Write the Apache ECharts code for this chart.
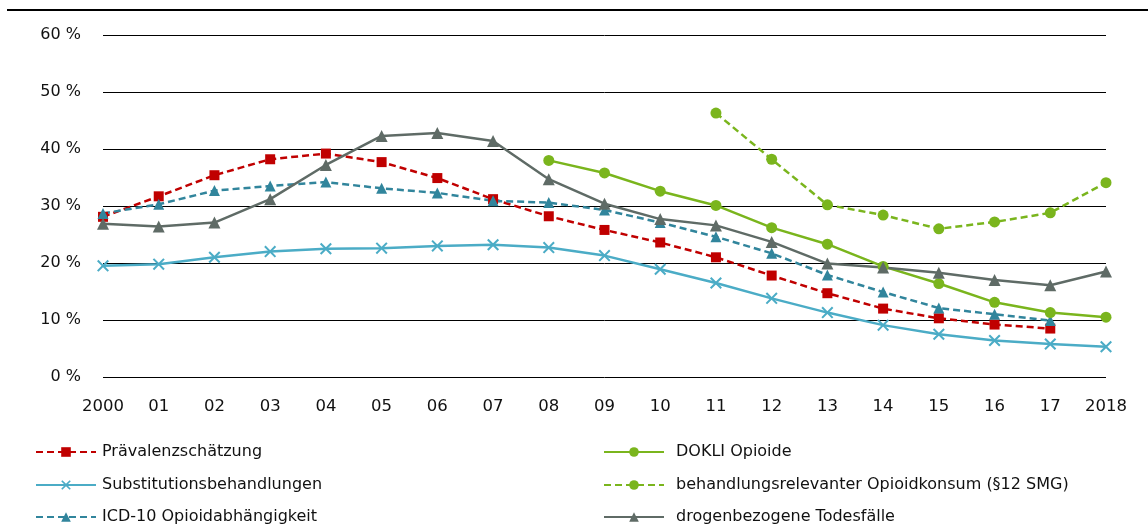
<!DOCTYPE html>
<html>
<head>
<meta charset="utf-8">
<script src="https://cdn.jsdelivr.net/npm/echarts@6/dist/echarts.min.js"></script>
<style>
  html, body { margin: 0; padding: 0; background: #fff; }
  #chart { width: 1148px; height: 526px; }
</style>
</head>
<body>
<div id="chart"></div>
<script>
// Years on the category axis
const years = ['2000', '01', '02', '03', '04', '05', '06', '07', '08', '09',
               '10', '11', '12', '13', '14', '15', '16', '17', '2018'];

// Series values in percent (null = no data for that year)
const praevalenz = [28.1, 31.7, 35.4, 38.2, 39.2, 37.7, 34.9, 31.2, 28.2, 25.8,
                    23.6, 21.0, 17.8, 14.7, 12.0, 10.3, 9.2, 8.5, null];
const substitution = [19.5, 19.8, 21.0, 22.0, 22.5, 22.6, 23.0, 23.2, 22.7, 21.3,
                      18.9, 16.5, 13.8, 11.3, 9.1, 7.5, 6.4, 5.8, 5.3];
const icd10 = [28.7, 30.3, 32.7, 33.5, 34.2, 33.1, 32.3, 30.9, 30.6, 29.3,
               27.1, 24.6, 21.7, 17.9, 14.9, 12.1, 11.0, 9.9, null];
const dokli = [null, null, null, null, null, null, null, null, 38.0, 35.8,
               32.6, 30.1, 26.2, 23.3, 19.4, 16.4, 13.1, 11.3, 10.5];
const smg = [null, null, null, null, null, null, null, null, null, null,
             null, 46.3, 38.2, 30.2, 28.4, 26.0, 27.2, 28.8, 34.1];
const todesfaelle = [26.9, 26.4, 27.1, 31.2, 37.2, 42.3, 42.8, 41.4, 34.7, 30.4,
                     27.7, 26.6, 23.7, 19.9, 19.2, 18.3, 17.0, 16.1, 18.5];

// Series names, in legend order (left column, then right column)
const names = ['Prävalenzschätzung', 'Substitutionsbehandlungen', 'ICD-10 Opioidabhängigkeit',
               'DOKLI Opioide', 'behandlungsrelevanter Opioidkonsum (§12 SMG)', 'drogenbezogene Todesfälle'];

// Value axis ticks
const yMin = 0, yMax = 60, yStep = 10;

const FONT = 'DejaVu Sans';
const TEXT = '#111111';
const crossPath = 'path://M0,1.2 L1.2,0 L5,3.8 L8.8,0 L10,1.2 L6.2,5 L10,8.8 L8.8,10 L5,6.2 L1.2,10 L0,8.8 L3.8,5 Z';

function lineSeries(name, data, color, dashed, symbol, size) {
  return {
    name: name,
    type: 'line',
    data: data,
    symbol: symbol,
    symbolSize: size,
    showSymbol: true,
    connectNulls: false,
    animation: false,
    lineStyle: { color: color, width: 2.5, type: dashed ? [7, 4] : 'solid' },
    itemStyle: { color: color },
    emphasis: { disabled: true }
  };
}

// One legend entry per row so the two columns stay fixed
const rowTops = [444, 477, 509];
const legends = names.map(function (n, i) {
  const col = i < 3 ? 0 : 1;
  return {
    orient: 'horizontal',
    left: col === 0 ? 35 : 603,
    top: rowTops[i % 3],
    padding: 0,
    itemWidth: 60,
    itemHeight: 12,
    textStyle: { fontFamily: FONT, fontSize: 16, color: TEXT,
                 padding: [0, 0, 0, col === 0 ? 1 : 7] },
    data: [n]
  };
});

const chart = echarts.init(document.getElementById('chart'), null, { renderer: 'canvas' });

chart.setOption({
  backgroundColor: '#ffffff',
  animation: false,
  textStyle: { fontFamily: FONT },
  grid: { left: 103, right: 42, top: 35, bottom: 149, containLabel: false },
  graphic: [{
    type: 'line',
    shape: { x1: 7, y1: 10, x2: 1148, y2: 10 },
    style: { stroke: '#000', lineWidth: 2 }
  }],
  xAxis: {
    type: 'category',
    data: years,
    boundaryGap: false,
    axisLine: { show: false },
    axisTick: { show: false },
    axisLabel: { fontFamily: FONT, fontSize: 16.5, color: TEXT, margin: 21 }
  },
  yAxis: {
    type: 'value',
    min: yMin,
    max: yMax,
    interval: yStep,
    axisLine: { show: false },
    axisTick: { show: false },
    splitLine: { lineStyle: { color: '#000', width: 1 } },
    axisLabel: { fontFamily: FONT, fontSize: 16, color: TEXT, margin: 22,
                 formatter: '{value} %' }
  },
  legend: legends,
  series: [
    lineSeries(names[0], praevalenz, '#c00000', true, 'rect', 10),
    lineSeries(names[1], substitution, '#4bacc6', false, crossPath, 12),
    lineSeries(names[2], icd10, '#31859c', true, 'triangle', 11),
    lineSeries(names[3], dokli, '#7ab51d', false, 'circle', 11),
    lineSeries(names[4], smg, '#7ab51d', true, 'circle', 11),
    lineSeries(names[5], todesfaelle, '#5f6b66', false, 'triangle', 12)
  ]
});
</script>
</body>
</html>
